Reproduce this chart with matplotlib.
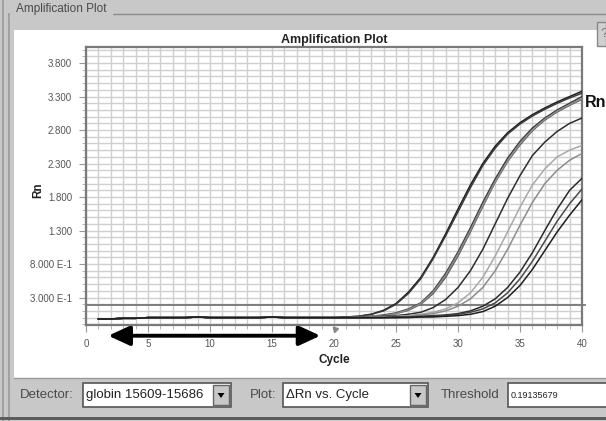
import matplotlib.pyplot as plt
from matplotlib.patches import Rectangle, FancyArrowPatch, Polygon
from matplotlib.lines import Line2D
from matplotlib.ticker import MultipleLocator, FixedLocator

# Data
cycles = list(range(1, 41))
baseline = [-0.02, -0.02, -0.01, -0.01, 0.0, 0.0, 0.0, 0.0, 0.01, 0.0,
            0.0, 0.0, 0.0, 0.0, 0.01, 0.0, 0.0, 0.0, 0.0, 0.0]
# values for cycles 21..40
rise_a1 = [0.01, 0.02, 0.05, 0.11, 0.21, 0.38, 0.60, 0.90, 1.25, 1.62,
           1.98, 2.30, 2.56, 2.76, 2.91, 3.03, 3.13, 3.22, 3.30, 3.38]
rise_a2 = [0.01, 0.02, 0.05, 0.10, 0.20, 0.36, 0.58, 0.88, 1.22, 1.58,
           1.94, 2.27, 2.53, 2.74, 2.89, 3.01, 3.11, 3.20, 3.28, 3.35]
rise_b1 = [0.0, 0.01, 0.02, 0.04, 0.07, 0.13, 0.22, 0.40, 0.66, 0.98,
           1.34, 1.72, 2.07, 2.38, 2.63, 2.83, 2.98, 3.10, 3.20, 3.30]
rise_b2 = [0.0, 0.01, 0.02, 0.03, 0.06, 0.11, 0.20, 0.36, 0.60, 0.92,
           1.28, 1.66, 2.02, 2.33, 2.58, 2.79, 2.95, 3.07, 3.17, 3.26]
rise_b3 = [0.0, 0.01, 0.02, 0.03, 0.06, 0.12, 0.21, 0.38, 0.63, 0.95,
           1.30, 1.68, 2.03, 2.34, 2.60, 2.80, 2.96, 3.08, 3.18, 3.27]
rise_c = [0.0, 0.0, 0.01, 0.02, 0.03, 0.05, 0.08, 0.15, 0.27, 0.45,
          0.70, 1.02, 1.40, 1.78, 2.12, 2.42, 2.62, 2.78, 2.90, 2.98]
rise_d1 = [0.0, 0.0, 0.01, 0.01, 0.02, 0.03, 0.05, 0.08, 0.13, 0.22,
           0.37, 0.60, 0.92, 1.28, 1.65, 1.98, 2.22, 2.40, 2.50, 2.57]
rise_d2 = [0.0, 0.0, 0.0, 0.01, 0.01, 0.02, 0.04, 0.06, 0.10, 0.17,
           0.28, 0.45, 0.70, 1.02, 1.38, 1.72, 2.00, 2.20, 2.35, 2.45]
rise_e1 = [0.0, 0.0, 0.0, 0.0, 0.01, 0.01, 0.02, 0.03, 0.04, 0.06,
           0.10, 0.17, 0.28, 0.45, 0.68, 0.97, 1.30, 1.62, 1.90, 2.08]
rise_e2 = [0.0, 0.0, 0.0, 0.0, 0.0, 0.01, 0.01, 0.02, 0.03, 0.05,
           0.08, 0.13, 0.22, 0.37, 0.58, 0.84, 1.14, 1.44, 1.70, 1.92]
rise_e3 = [0.0, 0.0, 0.0, 0.0, 0.0, 0.0, 0.01, 0.01, 0.02, 0.03,
           0.05, 0.09, 0.17, 0.30, 0.48, 0.72, 1.00, 1.28, 1.53, 1.76]

curves = [
    (rise_a1, '#1e1e1e'), (rise_a2, '#3a3a3a'),
    (rise_b1, '#3c3c3c'), (rise_b2, '#5a5a5a'), (rise_b3, '#8a8a8a'),
    (rise_c, '#2e2e2e'),
    (rise_d1, '#a8a8a8'), (rise_d2, '#8c8c8c'),
    (rise_e1, '#2a2a2a'), (rise_e2, '#4a4a4a'), (rise_e3, '#1e1e1e'),
]

threshold = 0.19135679
y_ticks = [0.3, 0.8, 1.3, 1.8, 2.3, 2.8, 3.3, 3.8]
y_tick_labels = ['3.000 E-1', '8.000 E-1', '1.300', '1.800', '2.300',
                 '2.800', '3.300', '3.800']
x_ticks = [0, 5, 10, 15, 20, 25, 30, 35, 40]
baseline_start, baseline_end = 1.8, 18.9
start_cycle = 20.1

W, H = 606, 421
FONT = ['Liberation Sans Narrow', 'Liberation Sans', 'DejaVu Sans']
UI_TEXT = '#4a4a4a'

fig = plt.figure(figsize=(W / 100, H / 100), dpi=100, facecolor='#c8c8c8')


def fx(x):
    return x / W


def fy(y):
    return 1 - y / H


def box(x0, y0, x1, y1, fc, ec='none', lw=0):
    fig.patches.append(Rectangle((fx(x0), fy(y1)), fx(x1) - fx(x0), fy(y0) - fy(y1),
                                 transform=fig.transFigure, facecolor=fc,
                                 edgecolor=ec, linewidth=lw, zorder=1))


def hline(x0, x1, y, c, lw=1.0):
    fig.add_artist(Line2D([fx(x0), fx(x1)], [fy(y), fy(y)], color=c, lw=lw,
                          transform=fig.transFigure, zorder=1.5))


def vline(x, y0, y1, c, lw=1.0):
    fig.add_artist(Line2D([fx(x), fx(x)], [fy(y0), fy(y1)], color=c, lw=lw,
                          transform=fig.transFigure, zorder=1.5))


# window frame
vline(3, 0, 421, '#9a9a9a', 1.2)
vline(9, 14, 421, '#9a9a9a', 1.2)
hline(9, 606, 14, '#8a8a8a', 1.0)
box(14, 30, 606, 378, 'white')
hline(14, 606, 378, '#9a9a9a', 1.0)
hline(0, 606, 418, '#555555', 2.0)
fig.text(fx(16), fy(9), 'Amplification Plot', family=FONT, fontsize=8.5,
         color=UI_TEXT, va='center', ha='left', backgroundcolor='#c8c8c8')
# help button
box(597, 22, 606, 46, '#d0d0d0', '#888888', 1.0)
fig.text(fx(600), fy(34), '?', family=FONT, fontsize=9.5, color='#777777',
         va='center', ha='left')


def combo(x0, x1, y0, y1, label):
    box(x0, y0, x1, y1, 'white', '#555555', 1.2)
    box(x1 - 18, y0 + 2, x1 - 2, y1 - 2, '#c8c8c8', '#666666', 1.0)
    cx, cy = (x1 - 10), (y0 + y1) / 2
    fig.patches.append(Polygon([(fx(cx - 3.5), fy(cy - 2)), (fx(cx + 3.5), fy(cy - 2)),
                                (fx(cx), fy(cy + 3))], closed=True,
                               transform=fig.transFigure, facecolor='black', zorder=2))
    fig.text(fx(x0 + 3), fy(cy), label, family=FONT, fontsize=9.5,
             color='#222222', va='center', ha='left')


fig.text(fx(20), fy(395), 'Detector:', family=FONT, fontsize=9.5,
         color=UI_TEXT, va='center', ha='left')
combo(83, 231, 383, 407, 'globin 15609-15686')
fig.text(fx(250), fy(395), 'Plot:', family=FONT, fontsize=9.5,
         color=UI_TEXT, va='center', ha='left')
combo(283, 428, 383, 407, '\u0394Rn vs. Cycle')
fig.text(fx(441), fy(395), 'Threshold', family=FONT, fontsize=9.5,
         color=UI_TEXT, va='center', ha='left')
box(508, 383, 612, 407, 'white', '#555555', 1.2)
fig.text(fx(511), fy(395), f'{threshold:.8f}', family=FONT, fontsize=6.5,
         color='#222222', va='center', ha='left')

# plot area
ax = fig.add_axes([fx(86), fy(325), fx(582) - fx(86), fy(47) - fy(325)])
ax.set_zorder(5)
ax.set_facecolor('white')
ax.set_xlim(0, 40)
ax.set_ylim(-0.11, 4.04)

for rise, color in curves:
    ax.plot(cycles, baseline + rise, color=color, lw=1.1, zorder=3)

ax.axhline(threshold, xmin=0, xmax=1.006, color='#777777', lw=1.3,
           clip_on=False, zorder=2)

ax.xaxis.set_major_locator(FixedLocator(x_ticks))
ax.xaxis.set_minor_locator(MultipleLocator(1))
ax.yaxis.set_major_locator(FixedLocator(y_ticks))
ax.yaxis.set_minor_locator(MultipleLocator(0.1))
ax.set_yticklabels(y_tick_labels)
ax.grid(which='both', color='#cfcfcf', lw=1.0, zorder=0)
ax.set_axisbelow(True)
ax.tick_params(which='major', length=5, color='#999999', labelsize=7,
               labelcolor='#555555', pad=5)
ax.tick_params(which='minor', length=3, color='#aaaaaa')
for lab in ax.get_xticklabels() + ax.get_yticklabels():
    lab.set_family(FONT)
for sp in ax.spines.values():
    sp.set_color('#7a7a7a')
    sp.set_linewidth(1.6)

ax.set_title('Amplification Plot', family=FONT, fontsize=9,
             fontweight='bold', color='#222222', pad=3)
ax.set_xlabel('Cycle', family=FONT, fontsize=8.5, fontweight='bold',
              color='#222222', labelpad=4)
ax.set_ylabel('Rn', family=FONT, fontsize=8.5, fontweight='bold',
              color='#222222')
ax.yaxis.set_label_coords(-0.085, 0.486)
ax.text(1.005, 0.8, 'Rn', transform=ax.transAxes, fontsize=11.5,
        fontweight='bold', color='#111111', va='center', ha='left',
        family=['Liberation Sans', 'DejaVu Sans'])

# baseline range arrow and start marker
arrow = FancyArrowPatch((baseline_start, -0.27), (baseline_end, -0.27),
                        arrowstyle='<|-|>,head_length=1.3,head_width=0.6',
                        mutation_scale=10, lw=2.8, color='black',
                        clip_on=False, shrinkA=0, shrinkB=0)
ax.add_patch(arrow)
ax.plot([start_cycle], [-0.17], marker=(3, 0, 45), markersize=4.5,
        color='#888888', clip_on=False)

fig.savefig('out.png', dpi=100, facecolor=fig.get_facecolor())
